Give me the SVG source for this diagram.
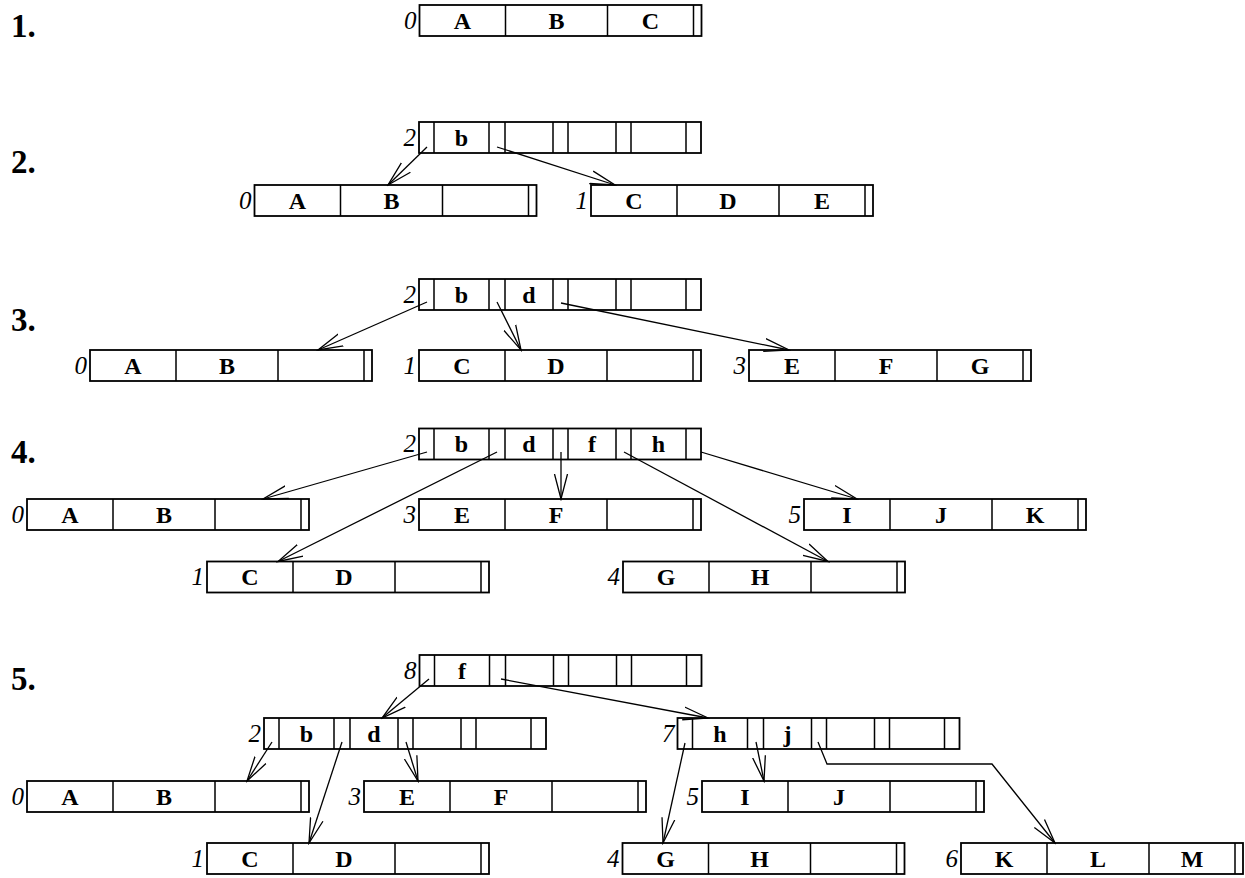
<svg xmlns="http://www.w3.org/2000/svg" xmlns:xlink="http://www.w3.org/1999/xlink" width="1245" height="878" viewBox="0 0 1245 878">
<style>
.box{fill:#fff;stroke:#000;stroke-width:1.8}
.div{stroke:#000;stroke-width:1.5}
.key{font-family:"Liberation Serif","Times New Roman",serif;font-weight:bold;font-size:24px;text-anchor:middle;fill:#000}
.lbl{font-family:"Liberation Serif","Times New Roman",serif;font-style:italic;font-size:25px;text-anchor:end;fill:#000}
.step{font-family:"Liberation Serif","Times New Roman",serif;font-weight:bold;font-size:33px;fill:#000}
.con{fill:none;stroke:#000;stroke-width:1.3;marker-end:url(#ah)}
</style>
<defs>
<marker id="ah" markerUnits="userSpaceOnUse" markerWidth="27" markerHeight="16" refX="25" refY="8" orient="auto">
<path d="M0,1.5 L25,8 L0,14.5" fill="none" stroke="#000" stroke-width="1.3"/>
</marker>
<g id="leaf">
<rect class="box" x="0" y="0" width="282" height="31"/>
<path class="div" d="M86,0V31M188,0V31M274,0V31"/>
</g>
<g id="inner">
<rect class="box" x="0" y="0" width="282" height="31"/>
<path class="div" d="M15,0V31M70,0V31M86,0V31M134,0V31M149,0V31M197,0V31M212,0V31M267,0V31"/>
</g>
</defs>
<rect width="1245" height="878" fill="#fff"/>

<g id="steps">
<text class="step" x="11" y="37">1.</text>
<text class="step" x="11" y="173">2.</text>
<text class="step" x="11" y="331">3.</text>
<text class="step" x="11" y="463">4.</text>
<text class="step" x="11" y="690">5.</text>
</g>

<!-- Row 1 -->
<g id="r1-leaf0" transform="translate(419.5,5)">
<use xlink:href="#leaf"/>
<text class="lbl" x="-3" y="23.5">0</text>
<text class="key" x="43" y="23.5">A</text><text class="key" x="137" y="23.5">B</text><text class="key" x="231" y="23.5">C</text>
</g>

<!-- Row 2 -->
<g id="r2-inner2" transform="translate(419,122)">
<use xlink:href="#inner"/>
<text class="lbl" x="-3" y="23.5">2</text>
<text class="key" x="42.5" y="23.5">b</text>
</g>
<g id="r2-leaf0" transform="translate(254.5,185)">
<use xlink:href="#leaf"/>
<text class="lbl" x="-3" y="23.5">0</text>
<text class="key" x="43" y="23.5">A</text><text class="key" x="137" y="23.5">B</text>
</g>
<g id="r2-leaf1" transform="translate(591,185)">
<use xlink:href="#leaf"/>
<text class="lbl" x="-3" y="23.5">1</text>
<text class="key" x="43" y="23.5">C</text><text class="key" x="137" y="23.5">D</text><text class="key" x="231" y="23.5">E</text>
</g>

<!-- Row 3 -->
<g id="r3-inner2" transform="translate(419,279)">
<use xlink:href="#inner"/>
<text class="lbl" x="-3" y="23.5">2</text>
<text class="key" x="42.5" y="23.5">b</text><text class="key" x="110" y="23.5">d</text>
</g>
<g id="r3-leaf0" transform="translate(90,350)">
<use xlink:href="#leaf"/>
<text class="lbl" x="-3" y="23.5">0</text>
<text class="key" x="43" y="23.5">A</text><text class="key" x="137" y="23.5">B</text>
</g>
<g id="r3-leaf1" transform="translate(419,350)">
<use xlink:href="#leaf"/>
<text class="lbl" x="-3" y="23.5">1</text>
<text class="key" x="43" y="23.5">C</text><text class="key" x="137" y="23.5">D</text>
</g>
<g id="r3-leaf3" transform="translate(749,350)">
<use xlink:href="#leaf"/>
<text class="lbl" x="-3" y="23.5">3</text>
<text class="key" x="43" y="23.5">E</text><text class="key" x="137" y="23.5">F</text><text class="key" x="231" y="23.5">G</text>
</g>

<!-- Row 4 -->
<g id="r4-inner2" transform="translate(419,428.5)">
<use xlink:href="#inner"/>
<text class="lbl" x="-3" y="23.5">2</text>
<text class="key" x="42.5" y="23.5">b</text><text class="key" x="110" y="23.5">d</text><text class="key" x="173" y="23.5">f</text><text class="key" x="239.5" y="23.5">h</text>
</g>
<g id="r4-leaf0" transform="translate(27,499)">
<use xlink:href="#leaf"/>
<text class="lbl" x="-3" y="23.5">0</text>
<text class="key" x="43" y="23.5">A</text><text class="key" x="137" y="23.5">B</text>
</g>
<g id="r4-leaf3" transform="translate(419,499)">
<use xlink:href="#leaf"/>
<text class="lbl" x="-3" y="23.5">3</text>
<text class="key" x="43" y="23.5">E</text><text class="key" x="137" y="23.5">F</text>
</g>
<g id="r4-leaf5" transform="translate(804,499)">
<use xlink:href="#leaf"/>
<text class="lbl" x="-3" y="23.5">5</text>
<text class="key" x="43" y="23.5">I</text><text class="key" x="137" y="23.5">J</text><text class="key" x="231" y="23.5">K</text>
</g>
<g id="r4-leaf1" transform="translate(207,561.5)">
<use xlink:href="#leaf"/>
<text class="lbl" x="-3" y="23.5">1</text>
<text class="key" x="43" y="23.5">C</text><text class="key" x="137" y="23.5">D</text>
</g>
<g id="r4-leaf4" transform="translate(623,561.5)">
<use xlink:href="#leaf"/>
<text class="lbl" x="-3" y="23.5">4</text>
<text class="key" x="43" y="23.5">G</text><text class="key" x="137" y="23.5">H</text>
</g>

<!-- Row 5 -->
<g id="r5-inner8" transform="translate(419.5,655)">
<use xlink:href="#inner"/>
<text class="lbl" x="-3" y="23.5">8</text>
<text class="key" x="42.5" y="23.5">f</text>
</g>
<g id="r5-inner2" transform="translate(264,718)">
<use xlink:href="#inner"/>
<text class="lbl" x="-3" y="23.5">2</text>
<text class="key" x="42.5" y="23.5">b</text><text class="key" x="110" y="23.5">d</text>
</g>
<g id="r5-inner7" transform="translate(677.5,718)">
<use xlink:href="#inner"/>
<text class="lbl" x="-3" y="23.5">7</text>
<text class="key" x="42.5" y="23.5">h</text><text class="key" x="110" y="23.5">j</text>
</g>
<g id="r5-leaf0" transform="translate(27,781)">
<use xlink:href="#leaf"/>
<text class="lbl" x="-3" y="23.5">0</text>
<text class="key" x="43" y="23.5">A</text><text class="key" x="137" y="23.5">B</text>
</g>
<g id="r5-leaf3" transform="translate(364,781)">
<use xlink:href="#leaf"/>
<text class="lbl" x="-3" y="23.5">3</text>
<text class="key" x="43" y="23.5">E</text><text class="key" x="137" y="23.5">F</text>
</g>
<g id="r5-leaf5" transform="translate(702,781)">
<use xlink:href="#leaf"/>
<text class="lbl" x="-3" y="23.5">5</text>
<text class="key" x="43" y="23.5">I</text><text class="key" x="137" y="23.5">J</text>
</g>
<g id="r5-leaf1" transform="translate(207,843)">
<use xlink:href="#leaf"/>
<text class="lbl" x="-3" y="23.5">1</text>
<text class="key" x="43" y="23.5">C</text><text class="key" x="137" y="23.5">D</text>
</g>
<g id="r5-leaf4" transform="translate(622.5,843)">
<use xlink:href="#leaf"/>
<text class="lbl" x="-3" y="23.5">4</text>
<text class="key" x="43" y="23.5">G</text><text class="key" x="137" y="23.5">H</text>
</g>
<g id="r5-leaf6" transform="translate(961,843)">
<use xlink:href="#leaf"/>
<text class="lbl" x="-3" y="23.5">6</text>
<text class="key" x="43" y="23.5">K</text><text class="key" x="137" y="23.5">L</text><text class="key" x="231" y="23.5">M</text>
</g>

<g id="connectors">
<path class="con" d="M427,147L388,185"/>
<path class="con" d="M497,147L615,185"/>
<path class="con" d="M427,302L318,350"/>
<path class="con" d="M497,302L521,350"/>
<path class="con" d="M561,303L789,350"/>
<path class="con" d="M427,452L263,499"/>
<path class="con" d="M497,452L278,561.5"/>
<path class="con" d="M561,452L561,499"/>
<path class="con" d="M624,452L828,561.5"/>
<path class="con" d="M701,452L857,499"/>
<path class="con" d="M429,679L382,718"/>
<path class="con" d="M501,679L708,718"/>
<path class="con" d="M272,742L247,781"/>
<path class="con" d="M342,742L309,843"/>
<path class="con" d="M406,742L418,781"/>
<path class="con" d="M685,743L663,843"/>
<path class="con" d="M756,742L764,781"/>
<path class="con" d="M818,742L827,764L992,764L1055,843"/>
</g>
</svg>
